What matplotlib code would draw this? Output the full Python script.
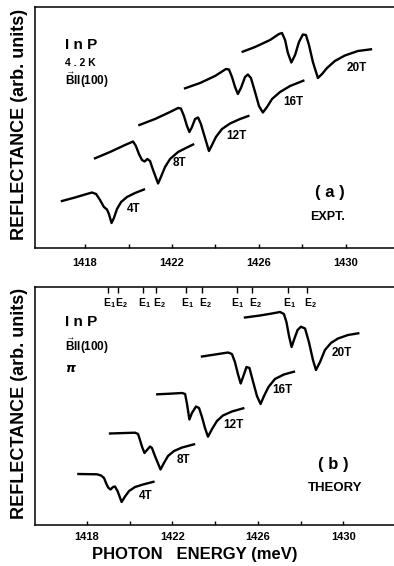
import matplotlib.pyplot as plt

plt.rcParams["font.family"] = ["Liberation Sans", "DejaVu Sans"]
plt.rcParams["font.weight"] = "bold"
plt.rcParams["mathtext.fontset"] = "custom"
plt.rcParams["mathtext.rm"] = "Liberation Sans:bold"
plt.rcParams["mathtext.bf"] = "Liberation Sans:bold"

fields = ["4T", "8T", "12T", "16T", "20T"]

# (a) experiment, photon energy (meV) and reflectance (arb. units)
expt_4t_e = [1416.94, 1417.54, 1418.00, 1418.32, 1418.51, 1418.69, 1418.87, 1419.01,
             1419.10, 1419.22, 1419.33, 1419.47, 1419.66, 1419.93, 1420.30, 1420.71]
expt_4t_r = [4.70, 5.05, 5.35, 5.55, 5.40, 4.80, 4.10, 3.85,
             3.40, 2.50, 3.00, 3.90, 4.60, 5.10, 5.50, 5.85]
expt_8t_e = [1418.46, 1419.15, 1419.84, 1420.21, 1420.34, 1420.48, 1420.62, 1420.74, 1420.87,
             1420.99, 1421.13, 1421.36, 1421.49, 1421.68, 1421.91, 1422.28, 1422.64, 1422.97]
expt_8t_r = [8.97, 9.60, 10.30, 10.65, 10.20, 9.40, 8.80, 8.65, 8.90,
             8.70, 7.80, 6.45, 7.10, 8.10, 8.90, 9.60, 10.00, 10.35]
expt_12t_e = [1420.50, 1421.22, 1421.91, 1422.28, 1422.41, 1422.55, 1422.69, 1422.80, 1422.92, 1423.06,
              1423.20, 1423.33, 1423.52, 1423.70, 1423.84, 1424.02, 1424.30, 1424.67, 1425.13, 1425.51]
expt_12t_r = [12.30, 12.90, 13.60, 14.00, 13.95, 13.20, 12.20, 11.60, 12.10, 12.90,
              13.05, 12.40, 11.00, 9.70, 10.30, 11.10, 11.90, 12.45, 12.90, 13.20]
expt_16t_e = [1422.60, 1423.29, 1423.98, 1424.48, 1424.62, 1424.76, 1424.90, 1425.03, 1425.17, 1425.36,
              1425.49, 1425.63, 1425.82, 1426.00, 1426.18, 1426.37, 1426.60, 1426.97, 1427.43, 1428.04]
expt_16t_r = [15.97, 16.50, 17.20, 17.90, 17.85, 17.10, 16.10, 15.40, 16.00, 17.10,
              17.35, 17.00, 15.60, 14.20, 13.55, 14.10, 14.90, 15.60, 16.20, 16.73]
expt_20t_e = [1425.25, 1425.82, 1426.51, 1426.92, 1427.06, 1427.20, 1427.33, 1427.49, 1427.66, 1427.84, 1428.02,
              1428.16, 1428.30, 1428.48, 1428.71, 1428.90, 1429.13, 1429.49, 1429.95, 1430.55, 1431.15]
expt_20t_r = [19.63, 20.10, 20.80, 21.40, 21.50, 20.80, 19.50, 18.55, 19.30, 20.60, 21.35,
              21.30, 20.30, 18.60, 17.00, 17.40, 18.00, 18.70, 19.25, 19.70, 19.87]

# (b) theory
theory_4t_e = [1417.61, 1418.15, 1418.48, 1418.67, 1418.81, 1418.90, 1419.00, 1419.11, 1419.23,
               1419.32, 1419.44, 1419.63, 1419.79, 1419.98, 1420.26, 1420.63, 1421.12]
theory_4t_r = [5.10, 5.08, 5.07, 4.95, 4.70, 4.20, 3.75, 3.55, 3.80,
               3.85, 3.40, 2.30, 2.85, 3.40, 3.80, 4.05, 4.32]
theory_8t_e = [1419.09, 1419.79, 1420.26, 1420.40, 1420.49, 1420.59, 1420.70, 1420.82, 1420.96,
               1421.05, 1421.19, 1421.45, 1421.61, 1421.80, 1422.08, 1422.46, 1423.02]
theory_8t_r = [9.15, 9.20, 9.23, 9.10, 8.50, 7.80, 7.20, 7.50, 7.85,
               7.70, 6.90, 5.55, 6.20, 6.90, 7.40, 7.75, 8.07]
theory_12t_e = [1421.30, 1421.89, 1422.46, 1422.60, 1422.69, 1422.80, 1422.92, 1423.11, 1423.25,
                1423.39, 1423.53, 1423.67, 1423.86, 1424.09, 1424.37, 1424.79, 1425.32]
theory_12t_r = [13.07, 13.13, 13.20, 13.10, 12.10, 10.55, 11.20, 11.85, 11.70,
                10.80, 9.70, 8.83, 9.60, 10.40, 10.95, 11.35, 11.67]
theory_16t_e = [1423.39, 1424.00, 1424.61, 1424.79, 1424.93, 1425.07, 1425.20, 1425.31, 1425.47,
                1425.61, 1425.77, 1425.96, 1426.13, 1426.29, 1426.50, 1426.80, 1427.22, 1427.69]
theory_16t_r = [16.85, 17.05, 17.25, 17.10, 16.30, 15.10, 14.15, 14.80, 15.80,
                15.70, 14.40, 12.90, 12.10, 12.90, 13.80, 14.60, 15.05, 15.33]
theory_20t_e = [1425.40, 1426.10, 1426.66, 1427.04, 1427.22, 1427.34, 1427.46, 1427.58, 1427.69, 1427.86, 1428.02,
                1428.21, 1428.39, 1428.58, 1428.72, 1428.91, 1429.14, 1429.42, 1429.75, 1430.22, 1430.70]
theory_20t_r = [20.75, 20.95, 21.15, 21.30, 21.10, 20.30, 18.90, 17.80, 18.50, 19.50, 19.83,
                19.65, 18.30, 16.50, 15.50, 16.30, 17.50, 18.20, 18.65, 19.00, 19.17]

# field label positions
expt_label_e = [1420.22, 1422.32, 1424.97, 1427.58, 1430.49]
expt_label_r = [3.87, 8.47, 11.20, 14.63, 17.97]
theory_label_e = [1420.77, 1422.52, 1424.85, 1427.14, 1429.92]
theory_label_r = [2.90, 6.50, 10.00, 13.50, 17.17]

# calculated transition energies E1, E2 for 4T .. 20T
e1_pos = [1419.01, 1420.65, 1422.64, 1425.01, 1427.42]
e2_pos = [1419.45, 1421.24, 1423.38, 1425.71, 1428.31]

x_ticks = [1418, 1420, 1422, 1424, 1426, 1428, 1430]
x_tick_labels = ["1418", "", "1422", "", "1426", "", "1430"]

W, H = 394, 566


def style_axes(ax, xlim, ylim, pad):
    ax.set_xlim(*xlim)
    ax.set_ylim(*ylim)
    ax.set_yticks([])
    ax.set_xticks(x_ticks)
    ax.set_xticklabels(x_tick_labels)
    ax.tick_params(axis="x", direction="in", length=3, width=1, pad=pad, labelsize=8)
    ax.spines["right"].set_visible(False)
    for side in ["left", "top", "bottom"]:
        ax.spines[side].set_linewidth(1.1)


fig = plt.figure(figsize=(W / 100, H / 100), dpi=100)
ax_a = fig.add_axes([35 / W, 1 - 248 / H, 359 / W, 241 / H])
ax_b = fig.add_axes([35 / W, 1 - 525 / H, 359 / W, 238 / H])

expt = [(expt_4t_e, expt_4t_r), (expt_8t_e, expt_8t_r), (expt_12t_e, expt_12t_r),
        (expt_16t_e, expt_16t_r), (expt_20t_e, expt_20t_r)]
theory = [(theory_4t_e, theory_4t_r), (theory_8t_e, theory_8t_r), (theory_12t_e, theory_12t_r),
          (theory_16t_e, theory_16t_r), (theory_20t_e, theory_20t_r)]

for (e, r), name, le, lr in zip(expt, fields, expt_label_e, expt_label_r):
    ax_a.plot(e, r, color="black", lw=1.7, solid_joinstyle="round")
    ax_a.text(le, lr, name, ha="center", va="center", fontsize=8.5)

for (e, r), name, le, lr in zip(theory, fields, theory_label_e, theory_label_r):
    ax_b.plot(e, r, color="black", lw=1.7, solid_joinstyle="round")
    ax_b.text(le, lr, name, ha="center", va="center", fontsize=8.5)

style_axes(ax_a, (1415.7, 1432.21), (0, 24.1), 7)
style_axes(ax_b, (1415.58, 1432.37), (0, 23.8), 5)

# panel (a) annotations
ax_a.text(1417.08, 20.3, "I n P", ha="left", va="center", fontsize=11)
ax_a.text(1417.08, 18.5, "4 . 2 K", ha="left", va="center", fontsize=7.5)
ax_a.text(1417.08, 16.8, r"$\vec{\mathbf{B}}$II(100)", ha="left", va="center", fontsize=8.5)
ax_a.text(1429.26, 5.5, "( a )", ha="center", va="center", fontsize=12)
ax_a.text(1429.17, 3.1, "EXPT.", ha="center", va="center", fontsize=9)

# panel (b) annotations
ax_b.text(1416.99, 20.3, "I n P", ha="left", va="center", fontsize=11)
ax_b.text(1416.99, 17.9, r"$\vec{\mathbf{B}}$II(100)", ha="left", va="center", fontsize=8.5)
ax_b.text(1417.0, 15.6, r"$\pi$", ha="left", va="center", fontsize=9)
ax_b.text(1429.51, 6.0, "( b )", ha="center", va="center", fontsize=12)
ax_b.text(1429.61, 3.7, "THEORY", ha="center", va="center", fontsize=9.5)

ax_b.vlines(e1_pos + e2_pos, 23.8 - 0.6, 23.8, color="black", lw=1)
for x in e1_pos:
    ax_b.text(x + 0.05, 22.2, r"E$_1$", ha="center", va="center", fontsize=7.5)
for x in e2_pos:
    ax_b.text(x + 0.17, 22.2, r"E$_2$", ha="center", va="center", fontsize=7.5)

fig.text(20 / W, 1 - 124 / H, "REFLECTANCE (arb. units)", rotation=90, ha="center", va="center",
         fontsize=13)
fig.text(20 / W, 1 - 403 / H, "REFLECTANCE (arb. units)", rotation=90, ha="center", va="center",
         fontsize=13)
fig.text(195 / W, 1 - 555 / H, "PHOTON   ENERGY (meV)", ha="center", va="center", fontsize=12)

fig.savefig("out.png", dpi=100)
plt.close(fig)
